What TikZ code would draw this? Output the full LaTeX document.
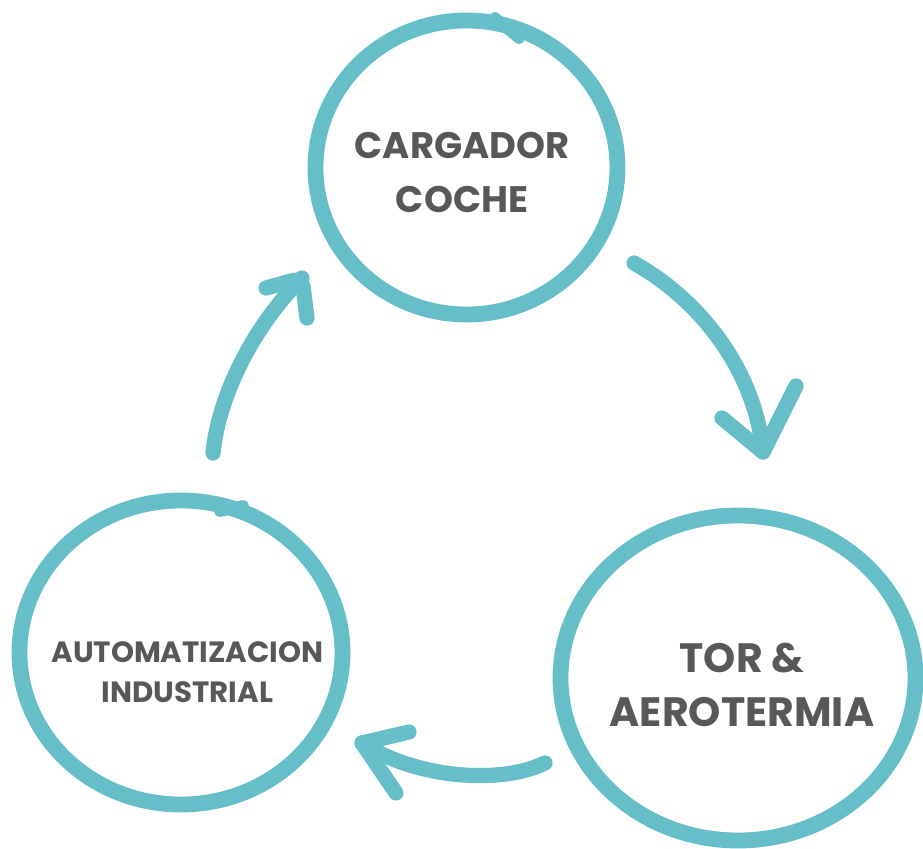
\documentclass[tikz,border=0pt]{standalone}
\usepackage{fontspec}
\setmainfont{Poppins}
\usetikzlibrary{shapes.geometric}
\definecolor{ringteal}{HTML}{66BEC8}
\definecolor{textgray}{HTML}{585858}
\tikzset{
  ring/.style={draw=ringteal,ellipse,line width=13.5pt,inner sep=0pt},
  ringtail/.style={draw=ringteal,line width=10pt,line cap=round},
  cyclearrow/.style={draw=ringteal,line width=13pt,line cap=round,line join=round},
  ringtext/.style={text=textgray,align=center,inner sep=0pt},
}

\begin{document}
\begin{tikzpicture}[x=0.03cm,y=-0.03cm]
\useasboundingbox (0,0) rectangle (923,849);
\clip (0,0) rectangle (923,849);

% rings
\node[ring,minimum width=9.06cm,minimum height=8.82cm] (cargador) at (466.5,167.5) {};
\node[ring,minimum width=9.69cm,minimum height=9.12cm] (automat) at (181,652.5) {};
\node[ring,minimum width=10.65cm,minimum height=9.75cm] (aerotermia) at (738,678) {};

% hand drawn overlaps
\draw[ringtail] (495,18) -- (519,38);
\draw[ringtail] (220,511) -- (243,506);

% labels
\node[ringtext,font=\bfseries\fontsize{31.5}{46}\selectfont] (cargadortxt) at (462,172.5) {CARGADOR\\COCHE};
\node[ringtext,font=\bfseries\fontsize{35}{46}\selectfont] (aerotermiatxt) at (742,685) {TOR \&\\AEROTERMIA};
\node[ringtext,font=\bfseries\fontsize{25}{34}\selectfont] (automattxt) at (187.5,672) {AUTOMATIZACION\\INDUSTRIAL};

% cycle arrows
\coordinate (a1s) at (634,263);
\coordinate (a1t) at (763,452);
\coordinate (a1l) at (722,418);
\coordinate (a1r) at (796,386);
\draw[cyclearrow] (a1s) .. controls (700,300) and (755,370) .. (a1t);
\draw[cyclearrow] (a1l) -- (a1t) -- (a1r);

\coordinate (a2s) at (545,763);
\coordinate (a2t) at (362,743);
\coordinate (a2u) at (409,732);
\coordinate (a2d) at (396,793);
\draw[cyclearrow] (a2s) .. controls (500,785) and (415,778) .. (a2t);
\draw[cyclearrow] (a2u) -- (a2t) -- (a2d);

\coordinate (a3s) at (213,453);
\coordinate (a3t) at (302,278);
\coordinate (a3l) at (266,288);
\coordinate (a3r) at (307,318);
\draw[cyclearrow] (a3s) .. controls (218,400) and (250,330) .. (a3t);
\draw[cyclearrow,rounded corners=8pt] (a3l) -- (a3t) -- (a3r);

\end{tikzpicture}
\end{document}
